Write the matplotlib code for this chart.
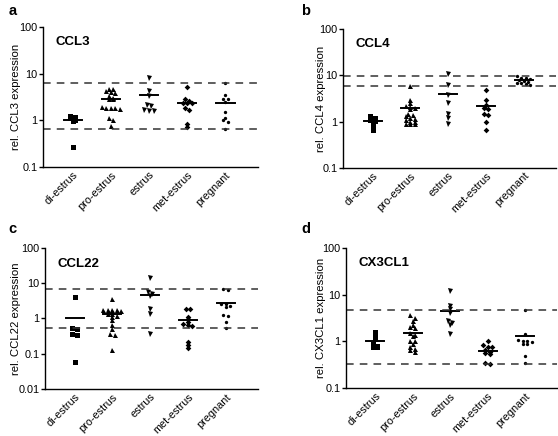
import numpy as np
import matplotlib as mpl
mpl.use('Agg')
import matplotlib.pyplot as plt

mpl.rcParams['font.family'] = 'Liberation Sans'
mpl.rcParams['axes.linewidth'] = 1.0

groups = ['di-estrus', 'pro-estrus', 'estrus', 'met-estrus', 'pregnant']
markers = ['s', '^', 'v', 'D', 'o']
msizes = [3.6, 3.6, 3.6, 2.9, 2.4]

# panel a - CCL3
ccl3 = [
    [1.25, 1.2, 1.1, 1.0, 0.95, 0.27],
    [4.8, 4.6, 4.2, 4.1, 3.9, 3.3, 3.0, 2.9, 2.8, 1.9, 1.85, 1.8, 1.8, 1.75, 1.1, 1.0, 0.75],
    [8.2, 4.3, 3.4, 2.1, 2.0, 1.7, 1.6, 1.6],
    [5.3, 2.9, 2.6, 2.4, 2.3, 2.3, 1.8, 1.7, 0.85, 0.72],
    [6.4, 3.5, 2.9, 2.8, 2.5, 1.5, 1.15, 1.0, 0.9, 0.65],
]
ccl3_mean = [1.0, 2.8, 3.5, 2.4, 2.4]
ccl3_dash = [6.3, 0.65]

# panel b - CCL4
ccl4 = [
    [1.35, 1.2, 1.1, 1.05, 0.95, 0.8, 0.65],
    [6.0, 3.0, 2.5, 2.2, 2.1, 2.0, 1.9, 1.5, 1.4, 1.3, 1.2, 1.15, 1.1, 1.0, 1.0, 0.9, 0.9, 0.88],
    [10.5, 6.3, 3.8, 2.5, 1.5, 1.2, 0.9],
    [4.8, 3.0, 2.3, 2.0, 1.9, 1.5, 1.4, 1.0, 0.65],
    [9.5, 9.0, 8.8, 8.5, 8.0, 7.5, 7.2, 7.0, 6.8, 6.5, 6.3],
]
ccl4_mean = [1.05, 2.0, 4.0, 2.15, 7.9]
ccl4_dash = [9.5, 6.0]

# panel c - CCL22
ccl22 = [
    [4.0, 0.55, 0.5, 0.37, 0.34, 0.058],
    [3.6, 1.8, 1.8, 1.7, 1.7, 1.6, 1.5, 1.3, 1.3, 1.2, 1.1, 0.9, 0.65, 0.5, 0.36, 0.35, 0.13],
    [14.5, 5.5, 5.0, 4.4, 1.9, 1.3, 0.37],
    [1.9, 1.85, 1.1, 0.95, 0.8, 0.68, 0.65, 0.62, 0.21, 0.18, 0.15],
    [6.7, 6.5, 2.6, 2.5, 2.3, 2.1, 1.25, 1.2, 0.8, 0.55],
]
ccl22_mean = [1.0, 1.3, 4.7, 0.92, 2.7]
ccl22_dash = [6.7, 0.55]

# panel d - CX3CL1
cx3cl1 = [
    [1.6, 1.35, 1.15, 0.9, 0.8, 0.75, 0.75],
    [3.6, 3.2, 2.7, 2.3, 2.0, 1.9, 1.5, 1.4, 1.3, 1.0, 1.0, 0.86, 0.75, 0.7, 0.65, 0.58],
    [12, 5.7, 5.0, 4.1, 2.8, 2.5, 2.2, 1.45],
    [1.0, 0.83, 0.76, 0.74, 0.64, 0.58, 0.56, 0.55, 0.35, 0.32],
    [4.8, 1.45, 1.05, 1.0, 1.0, 0.95, 0.9, 0.88, 0.48, 0.34],
]
cx3cl1_mean = [1.0, 1.55, 4.5, 0.63, 1.3]
cx3cl1_dash = [4.8, 0.32]

panels = [
    ('a', 'CCL3', ccl3, ccl3_mean, ccl3_dash, [0.077, 0.617, 0.385, 0.321], (0.1, 100)),
    ('b', 'CCL4', ccl4, ccl4_mean, ccl4_dash, [0.615, 0.615, 0.381, 0.318], (0.1, 100)),
    ('c', 'CCL22', ccl22, ccl22_mean, ccl22_dash, [0.081, 0.108, 0.381, 0.323], (0.01, 100)),
    ('d', 'CX3CL1', cx3cl1, cx3cl1_mean, cx3cl1_dash, [0.620, 0.110, 0.378, 0.321], (0.1, 100)),
]


def swarm(vals, tol=0.055, step=0.12):
    # spread points with similar values side by side (prism style)
    v = np.array(vals, dtype=float)
    order = np.argsort(-v)
    lv = np.log10(v[order])
    offs = np.zeros(len(v))
    i = 0
    while i < len(lv):
        j = i
        while j + 1 < len(lv) and lv[i] - lv[j + 1] < tol:
            j += 1
        n = j - i + 1
        offs[order[i:j + 1]] = (np.arange(n) - (n - 1) / 2) * step
        i = j + 1
    return offs


fig = plt.figure(figsize=(5.58, 4.36), dpi=100, facecolor='white')
for letter, name, data, means, dash, pos, ylim in panels:
    ax = fig.add_axes(pos)
    for k, vals in enumerate(data):
        x = k + swarm(vals)
        ax.plot(x, vals, linestyle='none', marker=markers[k], markersize=msizes[k],
                color='black', markeredgewidth=0)
        ax.plot([k - 0.24, k + 0.24], [means[k], means[k]], color='black', lw=1.4)
    for d in dash:
        ax.axhline(d, color='#333333', lw=1.1, dashes=(5, 4))
    ax.set_yscale('log')
    ax.set_ylim(*ylim)
    ax.set_xlim(-0.78, 4.85)
    ticks = [t for t in [0.01, 0.1, 1, 10, 100] if ylim[0] <= t <= ylim[1]]
    ax.set_yticks(ticks)
    ax.set_yticklabels(['%g' % t for t in ticks])
    ax.yaxis.set_minor_locator(mpl.ticker.NullLocator())
    ax.set_xticks(range(5))
    ax.set_xticklabels(groups, rotation=45, ha='right', rotation_mode='anchor')
    ax.tick_params(axis='x', length=0, labelsize=7.8, pad=2)
    ax.tick_params(axis='y', length=3, width=1, labelsize=7.8, pad=1)
    ax.spines['top'].set_visible(False)
    ax.spines['right'].set_visible(False)
    ax.set_ylabel('rel. %s expression' % name, fontsize=8.2)
    lx = 0.037 if letter in 'ac' else 0.585
    ax.yaxis.set_label_coords(lx, pos[1] + pos[3] / 2, transform=fig.transFigure)
    ax.text(0.06, 0.89, name, transform=ax.transAxes, fontsize=9.5,
            fontweight='bold', ha='left', va='center')
    fx = 0.015 if letter in 'ac' else 0.54
    fy = 0.975 if letter in 'ab' else 0.475
    fig.text(fx, fy, letter, fontsize=10.5, fontweight='bold', ha='left', va='center')

plt.savefig('out.png', dpi=100, facecolor='white')
